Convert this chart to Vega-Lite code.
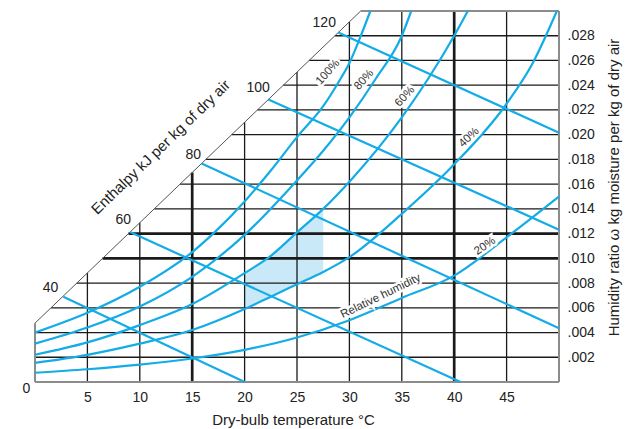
{
  "$schema": "https://vega.github.io/schema/vega-lite/v6.json",
  "width": 524,
  "height": 371,
  "autosize": {"type": "none"},
  "padding": {"left": 35, "top": 11, "right": 69, "bottom": 47},
  "config": {"view": {"stroke": null}, "font": "Liberation Sans"},
  "datasets": {
    "rh": [
      {"curve": "100", "T": 0, "w": 0.0040}, {"curve": "100", "T": 5, "w": 0.0056}, {"curve": "100", "T": 10, "w": 0.0077}, {"curve": "100", "T": 15, "w": 0.0105}, {"curve": "100", "T": 17.5, "w": 0.0124}, {"curve": "100", "T": 20, "w": 0.0146}, {"curve": "100", "T": 22.5, "w": 0.0171}, {"curve": "100", "T": 25, "w": 0.0198}, {"curve": "100", "T": 27.5, "w": 0.0223}, {"curve": "100", "T": 29, "w": 0.0243}, {"curve": "100", "T": 30, "w": 0.0258}, {"curve": "100", "T": 31, "w": 0.0278}, {"curve": "100", "T": 32, "w": 0.0300},
      {"curve": "80", "T": 0, "w": 0.0031}, {"curve": "80", "T": 5, "w": 0.0044}, {"curve": "80", "T": 10, "w": 0.0061}, {"curve": "80", "T": 15, "w": 0.0085}, {"curve": "80", "T": 20, "w": 0.0119}, {"curve": "80", "T": 25, "w": 0.0163}, {"curve": "80", "T": 27.5, "w": 0.0187}, {"curve": "80", "T": 30, "w": 0.0214}, {"curve": "80", "T": 32.5, "w": 0.0245}, {"curve": "80", "T": 35, "w": 0.0280}, {"curve": "80", "T": 35.9, "w": 0.0300},
      {"curve": "60", "T": 0, "w": 0.0022}, {"curve": "60", "T": 5, "w": 0.0032}, {"curve": "60", "T": 10, "w": 0.0046}, {"curve": "60", "T": 15, "w": 0.0063}, {"curve": "60", "T": 20, "w": 0.0088}, {"curve": "60", "T": 22.5, "w": 0.0102}, {"curve": "60", "T": 25, "w": 0.0121}, {"curve": "60", "T": 27.5, "w": 0.0140}, {"curve": "60", "T": 30, "w": 0.0162}, {"curve": "60", "T": 35, "w": 0.0214}, {"curve": "60", "T": 37.5, "w": 0.0245}, {"curve": "60", "T": 40, "w": 0.0280}, {"curve": "60", "T": 41.3, "w": 0.0300},
      {"curve": "40", "T": 0, "w": 0.00155}, {"curve": "40", "T": 5, "w": 0.0022}, {"curve": "40", "T": 10, "w": 0.0031}, {"curve": "40", "T": 15, "w": 0.0042}, {"curve": "40", "T": 20, "w": 0.0059}, {"curve": "40", "T": 22.5, "w": 0.0069}, {"curve": "40", "T": 25, "w": 0.0079}, {"curve": "40", "T": 27.5, "w": 0.0089}, {"curve": "40", "T": 30, "w": 0.0101}, {"curve": "40", "T": 35, "w": 0.0136}, {"curve": "40", "T": 40, "w": 0.0176}, {"curve": "40", "T": 45, "w": 0.0225}, {"curve": "40", "T": 47.5, "w": 0.0258}, {"curve": "40", "T": 49.8, "w": 0.0300},
      {"curve": "20", "T": 0, "w": 0.00075}, {"curve": "20", "T": 5, "w": 0.00103}, {"curve": "20", "T": 10, "w": 0.0014}, {"curve": "20", "T": 15, "w": 0.0019}, {"curve": "20", "T": 20, "w": 0.0026}, {"curve": "20", "T": 25, "w": 0.0036}, {"curve": "20", "T": 30, "w": 0.0050}, {"curve": "20", "T": 35, "w": 0.0068}, {"curve": "20", "T": 40, "w": 0.0086}, {"curve": "20", "T": 45, "w": 0.0117}, {"curve": "20", "T": 50, "w": 0.0150}
    ],
    "shade": [
      {"T": 20, "w": 0.0059, "w2": 0.0088}, {"T": 22.5, "w": 0.0069, "w2": 0.0102}, {"T": 25, "w": 0.0079, "w2": 0.0121}, {"T": 27.5, "w": 0.0089, "w2": 0.0140}
    ],
    "grid": [
      {"T": 5, "T2": 5, "w": 0, "w2": 0.00882}, {"T": 10, "T2": 10, "w": 0, "w2": 0.01288}, {"T": 20, "T2": 20, "w": 0, "w2": 0.0210}, {"T": 25, "T2": 25, "w": 0, "w2": 0.02506}, {"T": 30, "T2": 30, "w": 0, "w2": 0.02912}, {"T": 35, "T2": 35, "w": 0, "w2": 0.030}, {"T": 45, "T2": 45, "w": 0, "w2": 0.030},
      {"T": 0, "T2": 50, "w": 0.002, "w2": 0.002}, {"T": 0, "T2": 50, "w": 0.004, "w2": 0.004}, {"T": 1.53, "T2": 50, "w": 0.006, "w2": 0.006}, {"T": 3.99, "T2": 50, "w": 0.008, "w2": 0.008}, {"T": 11.38, "T2": 50, "w": 0.014, "w2": 0.014}, {"T": 13.84, "T2": 50, "w": 0.016, "w2": 0.016}, {"T": 16.31, "T2": 50, "w": 0.018, "w2": 0.018}, {"T": 18.77, "T2": 50, "w": 0.020, "w2": 0.020}, {"T": 21.23, "T2": 50, "w": 0.022, "w2": 0.022}, {"T": 23.69, "T2": 50, "w": 0.024, "w2": 0.024}, {"T": 26.16, "T2": 50, "w": 0.026, "w2": 0.026}, {"T": 28.62, "T2": 50, "w": 0.028, "w2": 0.028}
    ],
    "gridHeavy": [
      {"T": 15, "T2": 15, "w": 0, "w2": 0.01694}, {"T": 40, "T2": 40, "w": 0, "w2": 0.030},
      {"T": 6.45, "T2": 50, "w": 0.010, "w2": 0.010}, {"T": 8.92, "T2": 50, "w": 0.012, "w2": 0.012}
    ],
    "frame": [
      {"T": 0, "T2": 50, "w": 0, "w2": 0}, {"T": 50, "T2": 50, "w": 0, "w2": 0.030}, {"T": 31.08, "T2": 50, "w": 0.030, "w2": 0.030}, {"T": 0, "T2": 0, "w": 0, "w2": 0.00476}
    ],
    "diag": [
      {"T": 0, "T2": 31.08, "w": 0.00476, "w2": 0.030}
    ],
    "enth": [
      {"h": 40, "T": 2.7, "w": 0.0069, "T2": 20.0, "w2": 0},
      {"h": 60, "T": 9.07, "w": 0.01212, "T2": 40.6, "w2": 0},
      {"h": 80, "T": 15.9, "w": 0.01767, "T2": 50, "w2": 0.00435},
      {"h": 100, "T": 22.27, "w": 0.02284, "T2": 50, "w2": 0.01232},
      {"h": 120, "T": 28.94, "w": 0.02826, "T2": 50, "w2": 0.02016}
    ],
    "hLabels": [
      {"label": "40", "T": 1.48, "w": 0.00762}, {"label": "60", "T": 8.43, "w": 0.01307}, {"label": "80", "T": 15.1, "w": 0.01834}, {"label": "100", "T": 21.3, "w": 0.02374}, {"label": "120", "T": 27.6, "w": 0.02901}
    ],
    "rhLabels": [
      {"label": "100%", "T": 27.96, "w": 0.02505}, {"label": "80%", "T": 31.41, "w": 0.02442}, {"label": "60%", "T": 35.31, "w": 0.02307}, {"label": "40%", "T": 41.43, "w": 0.01976}, {"label": "20%", "T": 42.94, "w": 0.01097}, {"label": "Relative humidity", "T": 33.0, "w": 0.00692}
    ],
    "notes": [
      {"label": "Enthalpy kJ per kg of dry air", "T": 12.0, "w": 0.0190}
    ],
    "origin": [
      {"label": "0", "T": -0.83, "w": -0.00057}
    ]
  },
  "encoding": {
    "x": {"field": "T", "type": "quantitative", "scale": {"domain": [0, 50], "nice": false, "zero": false},
      "axis": {"values": [5, 10, 15, 20, 25, 30, 35, 40, 45], "ticks": false, "domain": false, "grid": false, "labelFontSize": 14, "labelPadding": 8, "labelColor": "#222", "title": "Dry-bulb temperature °C", "titleFontSize": 15, "titleFontWeight": "normal", "titleColor": "#222", "titlePadding": 8, "titleX": 258}},
    "y": {"field": "w", "type": "quantitative", "scale": {"domain": [0, 0.03], "nice": false},
      "axis": {"orient": "right", "values": [0.002, 0.004, 0.006, 0.008, 0.010, 0.012, 0.014, 0.016, 0.018, 0.020, 0.022, 0.024, 0.026, 0.028], "labelExpr": "substring(format(datum.value, '.3f'), 1)", "labelAlign": "left", "ticks": false, "domain": false, "grid": false, "labelPadding": 8, "labelFontSize": 14, "labelColor": "#222", "title": "Humidity ratio ω kg moisture per kg of dry air", "titleFontSize": 15, "titleFontWeight": "normal", "titleColor": "#222", "titleAngle": 270, "titleX": 54, "titleY": 176, "titleBaseline": "middle", "titleAlign": "center"}}
  },
  "layer": [
    {"data": {"name": "shade"}, "mark": {"type": "area", "color": "#c9e9f8", "interpolate": "monotone"}, "encoding": {"y2": {"field": "w2"}}},
    {"data": {"name": "grid"}, "mark": {"type": "rule", "color": "#1a1a1a", "strokeWidth": 1.3}, "encoding": {"x2": {"field": "T2"}, "y2": {"field": "w2"}}},
    {"data": {"name": "gridHeavy"}, "mark": {"type": "rule", "color": "#1a1a1a", "strokeWidth": 2.7}, "encoding": {"x2": {"field": "T2"}, "y2": {"field": "w2"}}},
    {"data": {"name": "frame"}, "mark": {"type": "rule", "color": "#8c8c8c", "strokeWidth": 2}, "encoding": {"x2": {"field": "T2"}, "y2": {"field": "w2"}}},
    {"data": {"name": "diag"}, "mark": {"type": "rule", "color": "#555555", "strokeWidth": 1}, "encoding": {"x2": {"field": "T2"}, "y2": {"field": "w2"}}},
    {"data": {"name": "enth"}, "mark": {"type": "rule", "color": "#13ace6", "strokeWidth": 2.2}, "encoding": {"x2": {"field": "T2"}, "y2": {"field": "w2"}}},
    {"data": {"name": "rh"}, "mark": {"type": "line", "color": "#13ace6", "strokeWidth": 2.2, "interpolate": "monotone"}, "encoding": {"detail": {"field": "curve"}}},
    {"data": {"name": "rhLabels"}, "transform": [{"filter": "datum.label == '100%' || datum.label == '80%' || datum.label == '60%'"}],
      "layer": [
        {"mark": {"type": "text", "fontSize": 11.5, "fill": "white", "stroke": "white", "strokeWidth": 5, "align": "center", "baseline": "middle", "angle": 312}, "encoding": {"text": {"field": "label"}}},
        {"mark": {"type": "text", "fontSize": 11.5, "color": "#333333", "align": "center", "baseline": "middle", "angle": 312}, "encoding": {"text": {"field": "label"}}}
      ]},
    {"data": {"name": "rhLabels"}, "transform": [{"filter": "datum.label == '40%'"}],
      "layer": [
        {"mark": {"type": "text", "fontSize": 11.5, "fill": "white", "stroke": "white", "strokeWidth": 5, "align": "center", "baseline": "middle", "angle": 316}, "encoding": {"text": {"field": "label"}}},
        {"mark": {"type": "text", "fontSize": 11.5, "color": "#333333", "align": "center", "baseline": "middle", "angle": 316}, "encoding": {"text": {"field": "label"}}}
      ]},
    {"data": {"name": "rhLabels"}, "transform": [{"filter": "datum.label == '20%'"}],
      "layer": [
        {"mark": {"type": "text", "fontSize": 11.5, "fill": "white", "stroke": "white", "strokeWidth": 5, "align": "center", "baseline": "middle", "angle": 326}, "encoding": {"text": {"field": "label"}}},
        {"mark": {"type": "text", "fontSize": 11.5, "color": "#333333", "align": "center", "baseline": "middle", "angle": 326}, "encoding": {"text": {"field": "label"}}}
      ]},
    {"data": {"name": "rhLabels"}, "transform": [{"filter": "datum.label == 'Relative humidity'"}],
      "layer": [
        {"mark": {"type": "text", "fontSize": 11.5, "fill": "white", "stroke": "white", "strokeWidth": 5, "align": "center", "baseline": "middle", "angle": 334}, "encoding": {"text": {"field": "label"}}},
        {"mark": {"type": "text", "fontSize": 11.5, "color": "#333333", "align": "center", "baseline": "middle", "angle": 334}, "encoding": {"text": {"field": "label"}}}
      ]},
    {"data": {"name": "hLabels"}, "mark": {"type": "text", "fontSize": 14, "color": "#222", "align": "center", "baseline": "middle"}, "encoding": {"text": {"field": "label"}}},
    {"data": {"name": "notes"}, "mark": {"type": "text", "fontSize": 15, "color": "#222", "align": "center", "baseline": "middle", "angle": 316}, "encoding": {"text": {"field": "label"}}},
    {"data": {"name": "origin"}, "mark": {"type": "text", "fontSize": 14, "color": "#222", "align": "center", "baseline": "middle", "clip": false}, "encoding": {"text": {"field": "label"}}}
  ]
}
